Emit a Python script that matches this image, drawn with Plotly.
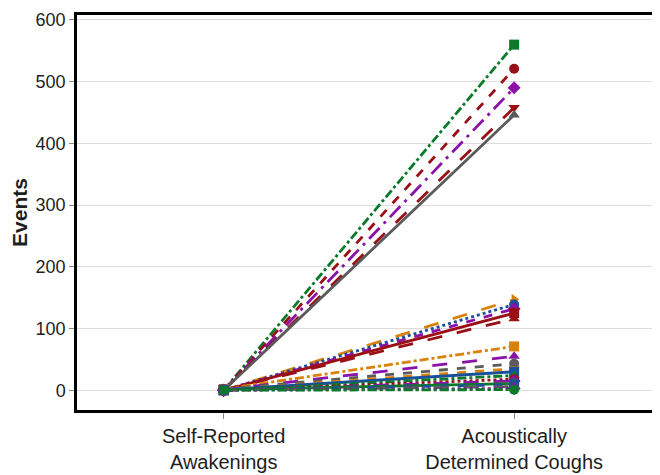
import plotly.graph_objects as go

categories = ["Self-Reported<br>Awakenings", "Acoustically<br>Determined Coughs"]

awakenings = [0, 0, 0, 0, 0,
              0, 0, 0, 0, 0,
              2, 1, 2, 1, 1, 0, 0, 0, 1, 0, 0, 0, 0]
coughs = [560, 521, 490, 458, 446,
          147, 139, 132, 125, 116,
          71, 55, 43, 35, 30, 24, 18, 15, 11, 9, 6, 3, 1]

GREEN = "#0a7a2a"
RED = "#9a0f16"
PURPLE = "#8b12a8"
GRAY = "#5a5a5a"
ORANGE = "#d9820a"
BLUE = "#1a4f9a"

colors = [GREEN, RED, PURPLE, RED, GRAY,
          ORANGE, BLUE, PURPLE, RED, RED,
          ORANGE, PURPLE, GRAY, ORANGE, BLUE, GREEN, RED, PURPLE, GREEN, BLUE, GRAY, PURPLE, GREEN]
dashes = ["dashdot", "dash", "longdashdot", "longdash", "solid",
          "longdash", "dot", "dash", "solid", "longdash",
          "dashdot", "longdash", "dash", "dash", "solid", "dashdot", "dot", "longdash", "solid", "dash", "longdash", "dot", "dashdot"]
symbols = ["square", "circle", "diamond", "triangle-down", "triangle-up",
           "triangle-right", "circle", "diamond", "square", "triangle-up",
           "square", "triangle-up", "circle", "triangle-down", "square", "triangle-up", "circle", "diamond", "circle", "square", "triangle-up", "diamond", "circle"]

fig = go.Figure()
for i in range(len(coughs)):
    fig.add_trace(go.Scatter(
        x=categories, y=[awakenings[i], coughs[i]],
        mode="lines+markers",
        line=dict(color=colors[i], dash=dashes[i], width=2.8),
        marker=dict(color=colors[i], symbol=symbols[i], size=10),
        showlegend=False, hoverinfo="skip",
    ))

fig.update_layout(
    width=652, height=467,
    margin=dict(l=69, r=2, t=4, b=65),
    paper_bgcolor="white", plot_bgcolor="white",
    font=dict(family="Liberation Sans, Arial, sans-serif", color="#1e1e1e"),
)
fig.update_xaxes(
    type="category", range=[-0.505, 1.485],
    showline=True, mirror=True, linecolor="black", linewidth=2.5,
    ticks="outside", ticklen=6, tickcolor="#888888",
    tickfont=dict(size=20), showgrid=False,
)
fig.update_yaxes(
    range=[-32, 608], tickvals=[0, 100, 200, 300, 400, 500, 600],
    showline=True, mirror=True, linecolor="black", linewidth=2.5,
    ticks="outside", ticklen=5, tickcolor="#888888",
    tickfont=dict(size=18), showgrid=True, gridcolor="#dcdcdc", gridwidth=1,
    zeroline=False,
    title=dict(text="<b>Events</b>", font=dict(size=21), standoff=8),
)

fig.write_html("out.html")
